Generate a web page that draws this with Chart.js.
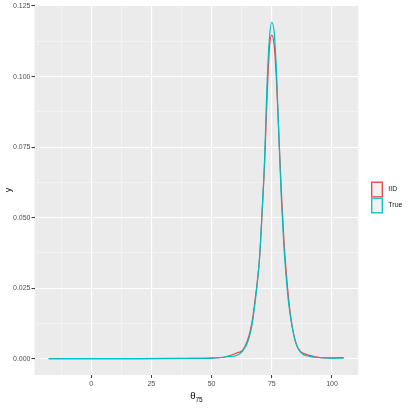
<!DOCTYPE html>
<html>
<head>
<meta charset="utf-8">
<script src="https://cdn.jsdelivr.net/npm/chart.js@4"></script>
<style>
  body { margin: 0; background: #fff; }
  canvas { display: block; }
</style>
</head>
<body>
<canvas id="chart" width="409" height="409"></canvas>
<script>
// values
const thetaValues = [-17.6, 0, 20, 40, 50, 55, 58, 60, 61, 62, 63, 64, 65, 66, 67, 68, 69, 70, 71, 72,
    73, 74, 75, 76, 77, 78, 79, 80, 81, 82, 83, 84, 85, 86, 87, 88, 89, 90, 93, 97, 101, 104, 104.8];
const iidDensity = [0, 0, 0, 0.0001, 0.0002, 0.0005, 0.0012, 0.0018, 0.0022, 0.0024, 0.0031, 0.0046,
    0.0067, 0.0097, 0.0140, 0.0205, 0.0275, 0.0365, 0.0520, 0.0690, 0.0920, 0.1100, 0.1147, 0.1110,
    0.0975, 0.0780, 0.0585, 0.0425, 0.0305, 0.0210, 0.0140, 0.0090, 0.0056, 0.0036, 0.0025, 0.0019,
    0.0016, 0.0013, 0.0006, 0.0003, 0.0003, 0.0004, 0.0003];
const trueDensity = [0, 0, 0, 0.00005, 0.0002, 0.0005, 0.0008, 0.0010, 0.0014, 0.0019, 0.0028, 0.0041,
    0.0060, 0.0088, 0.0130, 0.0195, 0.0270, 0.0370, 0.0530, 0.0705, 0.0970, 0.1135, 0.1192, 0.1155,
    0.1005, 0.0770, 0.0560, 0.0400, 0.0285, 0.0195, 0.0135, 0.0088, 0.0055, 0.0034, 0.0022, 0.0015,
    0.0011, 0.0009, 0.0005, 0.0003, 0.0002, 0.0002, 0.0002];

const seriesNames = ['IID', 'True'];
const seriesColors = ['#EE4040', '#00BFC4'];

// major + minor grid positions (labels only on majors)
const xTicks = [-12.5, 0, 12.5, 25, 37.5, 50, 62.5, 75, 87.5, 100];
const yTicks = [0, 0.0125, 0.025, 0.0375, 0.05, 0.0625, 0.075, 0.0875, 0.1, 0.1125, 0.125];

const isMajorX = v => v % 25 === 0;
const isMajorY = v => Math.round(v * 10000) % 250 === 0;

const tickFont = { family: '"Liberation Sans", Arial, sans-serif', size: 7 };

function toPoints(ys) {
    return thetaValues.map((x, i) => ({ x: x, y: ys[i] }));
}

function gridFor(isMajor) {
    return {
        color: ctx => isMajor(ctx.tick.value) ? '#FFFFFF' : 'rgba(255,255,255,0.65)',
        lineWidth: ctx => isMajor(ctx.tick.value) ? 1.1 : 0.55,
        tickColor: ctx => isMajor(ctx.tick.value) ? '#333333' : 'rgba(0,0,0,0)',
        tickWidth: 1,
        tickLength: 3
    };
}

const panelBackground = {
    id: 'panelBackground',
    beforeDraw(chart) {
        const { ctx, chartArea } = chart;
        ctx.save();
        ctx.fillStyle = '#EBEBEB';
        ctx.fillRect(chartArea.left, chartArea.top, chartArea.right - chartArea.left, chartArea.bottom - chartArea.top);
        ctx.restore();
    }
};

const titlesAndLegend = {
    id: 'titlesAndLegend',
    afterDraw(chart) {
        const { ctx, chartArea } = chart;
        const family = '"Liberation Sans", Arial, sans-serif';
        ctx.save();
        ctx.fillStyle = '#000000';

        // y title
        ctx.font = '9px ' + family;
        ctx.textAlign = 'center';
        ctx.textBaseline = 'middle';
        ctx.translate(8.5, (chartArea.top + chartArea.bottom) / 2);
        ctx.rotate(-Math.PI / 2);
        ctx.fillText('y', 0, 0);
        ctx.setTransform(1, 0, 0, 1, 0, 0);

        // x title: theta with subscript 75
        ctx.textAlign = 'left';
        ctx.textBaseline = 'alphabetic';
        ctx.font = '9.5px ' + family;
        const wTheta = ctx.measureText('θ').width;
        ctx.font = '6.5px ' + family;
        const wSub = ctx.measureText('75').width;
        const startX = (chartArea.left + chartArea.right) / 2 - (wTheta + wSub) / 2;
        ctx.font = '9.5px ' + family;
        ctx.fillText('θ', startX, 398.5);
        ctx.font = '6.5px ' + family;
        ctx.fillText('75', startX + wTheta, 401.5);

        // legend keys
        seriesNames.forEach((name, i) => {
            const top = 181.5 + i * 16;
            ctx.fillStyle = '#F2F2F2';
            ctx.fillRect(371, top, 12, 16);
            ctx.strokeStyle = seriesColors[i];
            ctx.lineWidth = 1.3;
            ctx.strokeRect(371.7, top + 0.7, 10.6, 14.6);
            ctx.fillStyle = '#1A1A1A';
            ctx.font = '7px ' + family;
            ctx.textBaseline = 'middle';
            ctx.fillText(name, 388.3, top + 8);
        });
        ctx.restore();
    }
};

new Chart(document.getElementById('chart'), {
    type: 'scatter',
    data: {
        datasets: [
            {
                label: seriesNames[0],
                data: toPoints(iidDensity),
                borderColor: seriesColors[0],
                order: 2
            },
            {
                label: seriesNames[1],
                data: toPoints(trueDensity),
                borderColor: seriesColors[1],
                order: 1
            }
        ]
    },
    options: {
        responsive: false,
        animation: false,
        showLine: true,
        elements: {
            point: { radius: 0, hoverRadius: 0 },
            line: { borderWidth: 1.2, cubicInterpolationMode: 'monotone', fill: false }
        },
        layout: { padding: { left: 0, top: 4.7, right: 50.7, bottom: 0 } },
        plugins: {
            legend: { display: false },
            tooltip: { enabled: false }
        },
        scales: {
            x: {
                type: 'linear',
                min: -23.5,
                max: 110.9,
                afterBuildTicks: scale => { scale.ticks = xTicks.map(v => ({ value: v })); },
                afterFit: scale => { scale.height = 34; },
                border: { display: false },
                grid: gridFor(isMajorX),
                ticks: {
                    autoSkip: false,
                    maxRotation: 0,
                    padding: 2,
                    color: '#4D4D4D',
                    font: tickFont,
                    callback: v => isMajorX(v) ? String(v) : ''
                }
            },
            y: {
                type: 'linear',
                min: -0.0058,
                max: 0.1253,
                afterBuildTicks: scale => { scale.ticks = yTicks.map(v => ({ value: v })); },
                afterFit: scale => { scale.width = 34.5; },
                border: { display: false },
                grid: gridFor(isMajorY),
                ticks: {
                    autoSkip: false,
                    padding: 1,
                    color: '#4D4D4D',
                    font: tickFont,
                    callback: v => isMajorY(v) ? v.toFixed(3) : ''
                }
            }
        }
    },
    plugins: [panelBackground, titlesAndLegend]
});
</script>
</body>
</html>
